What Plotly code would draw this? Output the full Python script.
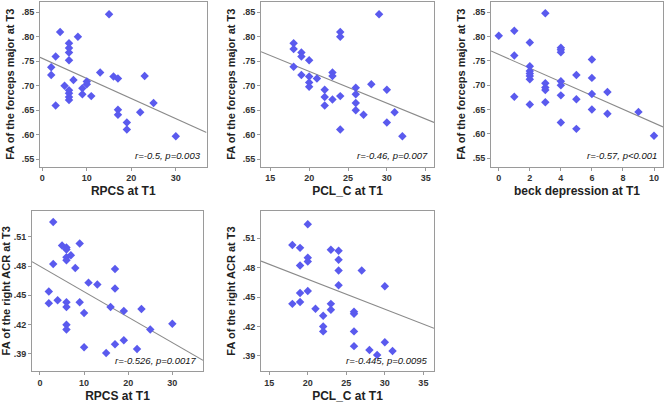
import plotly.graph_objects as go

# ---- data ----
rpcs_fmaj = [15, 4, 8, 6, 6, 6, 3, 6, 2, 2, 13, 7, 10, 10, 16, 17, 23, 5, 9, 6, 6, 6, 6, 9, 11, 3, 17, 17, 25, 22, 19, 19, 30]
fmaj_rpcs = [.846, .810, .800, .787, .777, .768, .760, .752, .738, .722, .727, .712, .709, .703, .719, .715, .720, .700, .695, .691, .685, .677, .671, .683, .679, .660, .651, .641, .665, .646, .625, .611, .597]

pcl_fmaj = [29, 24, 24, 18, 18, 19, 19, 20, 18, 23, 23, 19, 20, 21, 20, 20, 28, 22, 26, 30, 26, 22, 24, 23, 22, 26, 26, 27, 31, 30, 24, 32]
fmaj_pcl = [.846, .810, .800, .787, .775, .768, .760, .752, .739, .727, .720, .722, .719, .715, .707, .698, .703, .692, .696, .692, .683, .677, .679, .672, .660, .665, .650, .641, .646, .625, .611, .597]

beck_fmaj = [3, 0, 1, 1, 1, 2, 2, 2, 2, 2, 2, 2, 3, 3, 3, 3, 4, 4, 4, 4, 4, 4, 4, 5, 5, 5, 6, 6, 6, 6, 7, 7, 9, 10]
fmaj_beck = [.848, .802, .812, .761, .676, .788, .739, .729, .724, .719, .712, .660, .704, .695, .690, .665, .777, .773, .768, .708, .700, .679, .623, .721, .671, .610, .753, .715, .682, .650, .686, .641, .645, .596]

rpcs_acr = [3, 5, 6, 6, 9, 7, 6, 6, 3, 8, 17, 11, 13, 2, 17, 2, 4, 6, 6, 9, 16, 10, 19, 23, 6, 6, 25, 30, 17, 19, 10, 15, 22]
acr_rpcs = [.525, .501, .499, .497, .503, .491, .489, .486, .482, .478, .477, .463, .461, .454, .457, .442, .445, .443, .438, .443, .438, .432, .434, .436, .420, .415, .415, .421, .400, .404, .397, .391, .395]

pcl_acr = [20, 18, 19, 23, 24, 20, 20, 24, 19, 24, 27, 24, 30, 20, 19, 19, 18, 23, 21, 23, 26, 26, 22, 22, 22, 26, 26, 30, 28, 31, 29]
acr_pcl = [.524, .503, .500, .498, .497, .490, .486, .488, .482, .477, .477, .462, .461, .456, .454, .445, .443, .443, .438, .437, .435, .433, .431, .420, .415, .415, .400, .404, .396, .395, .391]

# fitted lines as drawn in the figure (intercept, slope)
fit_intercepts = [.756, .859, .7633, .4797, .5290]
fit_slopes = [-.00410, -.00648, -.01412, -.002603, -.003047]

fmaj_ticks = [.55, .60, .65, .70, .75, .80, .85]
fmaj_ticktext = [".55", ".60", ".65", ".70", ".75", ".80", ".85"]
acr_ticks = [.39, .42, .45, .48, .51]
acr_ticktext = [".39", ".42", ".45", ".48", ".51"]
rpcs_ticks = [0, 10, 20, 30]
pcl_ticks = [15, 20, 25, 30, 35]
beck_ticks = [0, 2, 4, 6, 8, 10]

stats = ["r=-0.5, p=0.003", "r=-0.46, p=0.007", "r=-0.57, p<0.001",
         "r=-0.526, p=0.0017", "r=-0.445, p=0.0095"]
xtitles = ["RPCS at T1", "PCL_C at T1", "beck depression at T1", "RPCS at T1", "PCL_C at T1"]
ytitles = ["FA of the forceps major at T3"] * 3 + ["FA of the right ACR at T3"] * 2

W, H = 666, 409
# panel frames in pixels: (left, right, top, bottom)
frames = [(40, 206.5, 2, 166.5), (261, 434, 2, 166.5), (491, 663, 2, 166.5),
          (32, 203, 210.5, 371), (261, 434, 211, 371)]
xranges = [(-0.52, 36.9), (13.8, 36.07), (-0.5, 10.58), (-1.81, 36.95), (13.93, 36.38)]
yranges = [(.5354, .871), (.5354, .871), (.5325, .8713), (.3726, .5368), (.3747, .5375)]

panels = [
    (rpcs_fmaj, fmaj_rpcs, rpcs_ticks, fmaj_ticks, fmaj_ticktext),
    (pcl_fmaj, fmaj_pcl, pcl_ticks, fmaj_ticks, fmaj_ticktext),
    (beck_fmaj, fmaj_beck, beck_ticks, fmaj_ticks, fmaj_ticktext),
    (rpcs_acr, acr_rpcs, rpcs_ticks, acr_ticks, acr_ticktext),
    (pcl_acr, acr_pcl, pcl_ticks, acr_ticks, acr_ticktext),
]

fig = go.Figure()
MARKER = "#5a5aee"
FONT = "Liberation Sans, Arial, sans-serif"

for i, (xs, ys, xt, yt, ytt) in enumerate(panels):
    n = "" if i == 0 else str(i + 1)
    xa, ya = "x" + n, "y" + n
    l, r, t, b = frames[i]
    x0, x1 = xranges[i]
    a, s = fit_intercepts[i], fit_slopes[i]
    fig.add_trace(go.Scatter(x=[x0, x1], y=[a + s * x0, a + s * x1],
                             mode="lines", line=dict(color="#8a8a8a", width=1.1),
                             xaxis=xa, yaxis=ya, showlegend=False, hoverinfo="skip"))
    fig.add_trace(go.Scatter(x=xs, y=ys, mode="markers",
                             marker=dict(symbol="diamond", size=6.5, color=MARKER),
                             xaxis=xa, yaxis=ya, showlegend=False))
    axcommon = dict(showgrid=False, zeroline=False, showline=True, mirror=True,
                    linecolor="#9a9a9a", linewidth=1, ticks="outside", ticklen=3,
                    tickcolor="#9a9a9a", automargin=False,
                    tickfont=dict(family=FONT, size=9, color="#333", weight="bold"))
    fig.layout["xaxis" + n] = dict(domain=[l / W, r / W], range=list(xranges[i]),
                                   anchor=ya, tickvals=xt,
                                   title=dict(text="<b>%s</b>" % xtitles[i],
                                              font=dict(family=FONT, size=12, color="#222"),
                                              standoff=4),
                                   **axcommon)
    fig.layout["yaxis" + n] = dict(domain=[1 - b / H, 1 - t / H], range=list(yranges[i]),
                                   anchor=xa, tickvals=yt, ticktext=ytt,
                                   title=dict(text="<b>%s</b>" % ytitles[i],
                                              font=dict(family=FONT, size=11, color="#222"),
                                              standoff=4),
                                   **axcommon)
    fig.add_annotation(x=(r - 4) / W, y=1 - (b - 3) / H, xref="paper", yref="paper",
                       xanchor="right", yanchor="bottom", showarrow=False,
                       text="<i>%s</i>" % stats[i],
                       font=dict(family=FONT, size=9.5, color="#111"))

fig.update_layout(width=W, height=H, margin=dict(l=0, r=0, t=0, b=0),
                  paper_bgcolor="white", plot_bgcolor="white", showlegend=False)
fig.write_html("out.html", config={"displayModeBar": False},
               post_script="document.body.style.margin='0';document.body.style.overflow='hidden';")
